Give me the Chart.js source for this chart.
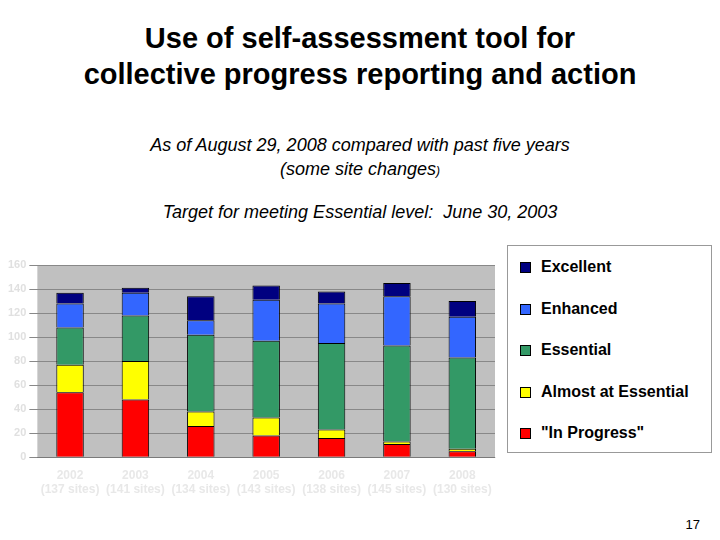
<!DOCTYPE html><html><head><meta charset="utf-8">
<script src="https://cdn.jsdelivr.net/npm/chart.js@4"></script>
<style>
body{margin:0;width:720px;height:540px;background:#fff;font-family:"Liberation Sans",Arial,sans-serif;position:relative;overflow:hidden}
.t{position:absolute;left:0;width:720px;text-align:center}
#c{position:absolute;left:0;top:245px}
#lg{position:absolute;left:507px;top:245px;width:205px;height:208px;border:1px solid #999;box-sizing:border-box;padding:12px 0 0 12px}
#lg div{font-size:16px;font-weight:bold;height:41.5px;display:flex;align-items:flex-start}
#lg span{display:inline-block;width:9px;height:9px;border:1px solid #000;margin:4px 10px 0 0}
</style></head><body>
<div class="t" style="top:20px;font-size:29px;font-weight:bold;line-height:36px">Use of self-assessment tool for<br>collective progress reporting and action</div>
<div class="t" style="top:133px;font-size:18px;font-style:italic;line-height:24px">As of August 29, 2008 compared with past five years<br>(some site changes<span style="font-size:12px">)</span></div>
<div class="t" style="top:202px;font-size:18px;font-style:italic">Target for meeting Essential level:&nbsp; June 30, 2003</div>
<div style="position:absolute;right:20px;top:517px;font-size:13px">17</div>
<canvas id="c" width="500" height="255"></canvas>
<div id="lg"></div>
<script>
const categories=[["2002","(137 sites)"],["2003","(141 sites)"],["2004","(134 sites)"],["2005","(143 sites)"],["2006","(138 sites)"],["2007","(145 sites)"],["2008","(130 sites)"]];
const inProgress=[54,48,26,18,16,11,5];
const almostEssential=[23,32,12,15,7,2,2];
const essential=[31,38,64,64,72,80,76];
const enhanced=[20,19,12,34,33,41,34];
const excellent=[9,4,20,12,10,11,13];
const yTicks=[0,20,40,60,80,100,120,140,160];
const bg={id:'bg',beforeDraw(ch){const {ctx,chartArea:a}=ch;ctx.save();ctx.fillStyle='#c0c0c0';ctx.fillRect(a.left,a.top,a.right-a.left,a.bottom-a.top);ctx.restore();}};
const mk=(label,data,color)=>({label,data,backgroundColor:color,borderColor:'#000',borderWidth:1,barPercentage:0.42,categoryPercentage:1});
const ch=new Chart(document.getElementById('c'),{type:'bar',
data:{labels:categories,datasets:[mk('"In Progress"',inProgress,'#ff0000'),mk('Almost at Essential',almostEssential,'#ffff00'),mk('Essential',essential,'#339966'),mk('Enhanced',enhanced,'#3366ff'),mk('Excellent',excellent,'#000080')]},
options:{responsive:false,animation:false,layout:{padding:{left:5,right:5,top:20,bottom:0}},
plugins:{legend:{display:false},tooltip:{enabled:false}},
scales:{x:{stacked:true,grid:{display:false},ticks:{color:'#e8e8e8',font:{size:12,weight:'bold'},maxRotation:0}},
y:{stacked:true,min:0,max:160,afterBuildTicks(ax){ax.ticks=yTicks.map(v=>({value:v}));},grid:{color:'#888'},border:{display:false},ticks:{color:'#e0e0e0',font:{size:11,weight:'bold'}}}}},
plugins:[bg]});
const lg=document.getElementById('lg');
ch.data.datasets.slice().reverse().forEach(d=>{const r=document.createElement('div');const s=document.createElement('span');s.style.background=d.backgroundColor;r.appendChild(s);r.appendChild(document.createTextNode(d.label));lg.appendChild(r);});
</script></body></html>
